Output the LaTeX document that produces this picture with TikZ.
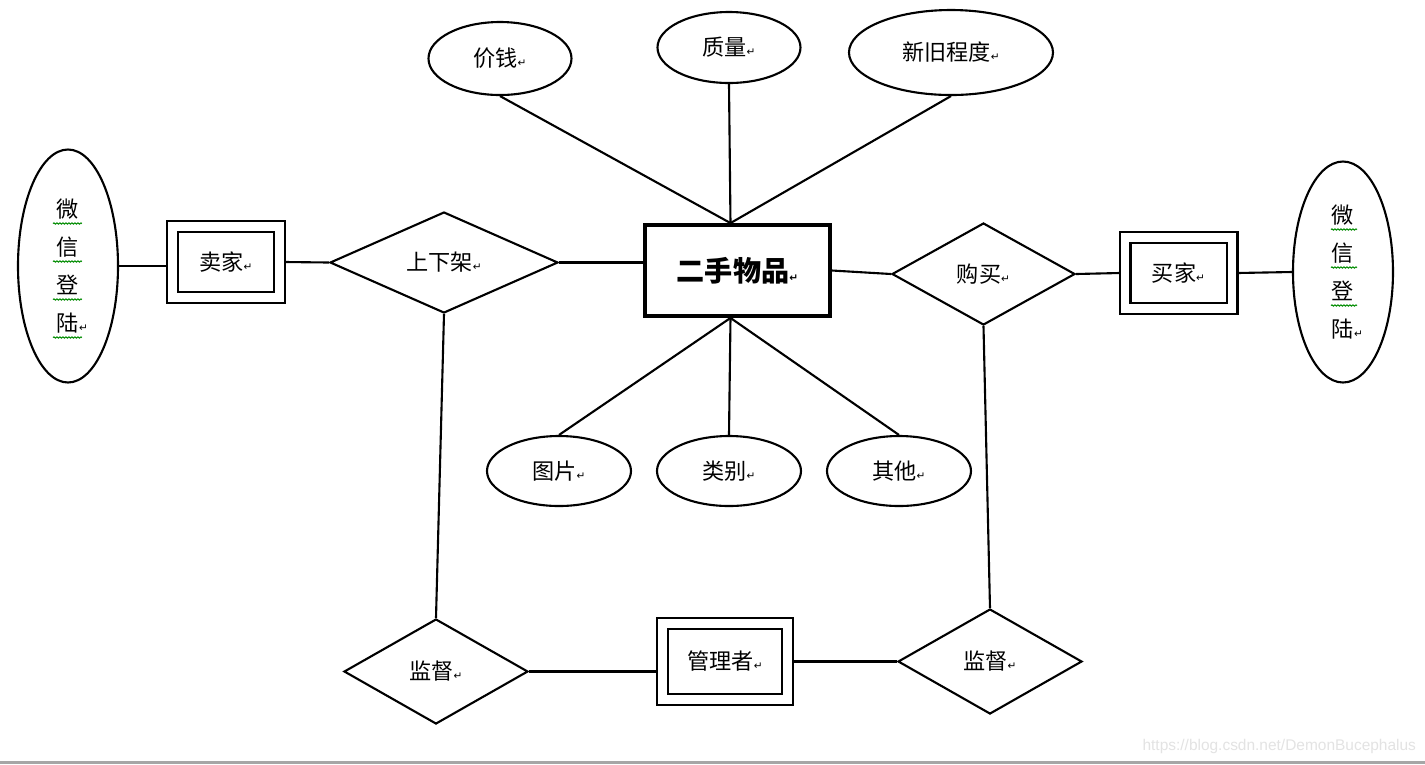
\documentclass[tikz,border=0pt]{standalone}
\usepackage{fontspec}
\newfontfamily\cjk{Noto Sans CJK SC}
\newfontfamily\markfont{DejaVu Sans}
\newfontfamily\webfont{Liberation Sans}
\usetikzlibrary{shapes.geometric,decorations.pathmorphing}
\newcommand{\pmark}{{\markfont\fontsize{3}{3}\selectfont ↵}}

\begin{document}
\begin{tikzpicture}[x=1cm,y=-1cm,line width=0.6pt,
  every node/.style={font=\cjk\fontsize{6.3}{10.8}\selectfont},
  attr/.style={draw,ellipse,inner sep=0pt},
  rel/.style={draw,diamond,inner sep=0pt},
  entity/.style={draw,double,double distance=2.5pt,outer sep=0.055cm,inner sep=0pt},
  wavy/.style={draw=green!55!black,line width=0.3pt,decorate,
    decoration={snake,segment length=0.03cm,amplitude=0.006cm}}]

% Page
\useasboundingbox (0,0) rectangle (14.25,7.64);
\fill[white] (0,0) rectangle (14.25,7.64);

% Entities
\node[draw,line width=1.1pt,minimum width=1.85cm,minimum height=0.91cm,
  font=\cjk\bfseries\fontsize{8}{9.6}\selectfont] (goods) at (7.375,2.705) {二手物品\pmark};
\node[entity,minimum width=1.07cm,minimum height=0.71cm] (seller) at (2.26,2.62) {卖家\pmark};
\node[entity,minimum width=1.07cm,minimum height=0.71cm] (buyer) at (11.785,2.73) {买家\pmark};
\node[entity,minimum width=1.25cm,minimum height=0.76cm] (admin) at (7.25,6.615) {管理者\pmark};

% Relations
\node[rel,minimum width=2.28cm,minimum height=1.01cm] (shelf) at (4.44,2.625) {上下架\pmark};
\node[rel,minimum width=1.83cm,minimum height=1.02cm] (buy) at (9.835,2.74) {购买\pmark};
\node[rel,minimum width=1.84cm,minimum height=1.05cm] (superL) at (4.36,6.715) {监督\pmark};
\node[rel,minimum width=1.84cm,minimum height=1.05cm] (superR) at (9.90,6.615) {监督\pmark};

% Attributes
\node[attr,minimum width=1.43cm,minimum height=0.73cm] (price) at (5.00,0.585) {价钱\pmark};
\node[attr,minimum width=1.43cm,minimum height=0.71cm] (quality) at (7.29,0.475) {质量\pmark};
\node[attr,minimum width=2.04cm,minimum height=0.85cm] (state) at (9.51,0.525) {新旧程度\pmark};
\node[attr,minimum width=1.44cm,minimum height=0.70cm] (pic) at (5.59,4.71) {图片\pmark};
\node[attr,minimum width=1.44cm,minimum height=0.70cm] (kind) at (7.29,4.71) {类别\pmark};
\node[attr,minimum width=1.44cm,minimum height=0.70cm] (other) at (8.99,4.71) {其他\pmark};
\node[attr,minimum width=1.00cm,minimum height=2.33cm,align=center] (wxL) at (0.68,2.66)
  {微\\信\\登\\陆\rlap{\pmark}};
\node[attr,minimum width=1.00cm,minimum height=2.21cm,align=center] (wxR) at (13.43,2.72)
  {微\\信\\登\\陆\rlap{\pmark}};

% Spell-check marks
\foreach \dy in {-0.425,-0.045,0.335,0.715}
  \draw[wavy] ([shift={(-0.15,\dy)}]wxL.center) -- ++(0.29,0);
\foreach \dy in {-0.425,-0.045,0.335}
  \draw[wavy] ([shift={(-0.12,\dy)}]wxR.center) -- ++(0.26,0);

% Links
\draw (wxL.east) -- (wxL.east -| seller.west);
\draw (seller.east) -- (shelf.west);
\draw (shelf.east) -- (shelf.east -| goods.west);
\draw (goods.east) -- (buy.west);
\draw (buy.east) -- (buyer.west);
\draw (buyer.east) -- (wxR.west);
\draw (shelf.south) -- (superL.north);
\draw (buy.south) -- (superR.north);
\draw (superL.east) -- (superL.east -| admin.west);
\draw (admin.east) -- (superR.west);

\draw (price.south) -- ([xshift=-0.07cm]goods.north);
\draw (quality.south) -- ([xshift=-0.07cm]goods.north);
\draw (state.south) -- ([xshift=-0.07cm]goods.north);
\draw ([xshift=-0.07cm]goods.south) -- (pic.north);
\draw ([xshift=-0.07cm]goods.south) -- (kind.north);
\draw ([xshift=-0.07cm]goods.south) -- (other.north);

% Footer
\draw[gray!70,line width=0.8pt] (0,7.625) -- (14.25,7.625);
\node[font=\webfont\fontsize{4.4}{5}\selectfont,text=gray!22,anchor=east,inner sep=0pt]
  (url) at (14.17,7.46) {https://blog.csdn.net/DemonBucephalus};

\end{tikzpicture}
\end{document}
